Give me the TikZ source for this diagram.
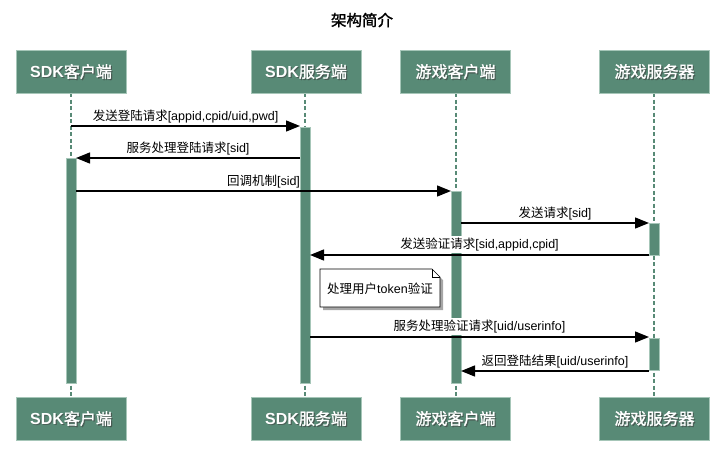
\documentclass[tikz,border=0pt]{standalone}
\usepackage{fontspec}
\setmainfont{Liberation Sans}
\newfontfamily\cjk{Noto Sans CJK SC}[AutoFakeBold=1.5]
\usetikzlibrary{arrows.meta}
\newcommand\zh[1]{{\cjk #1}}
\definecolor{boxfill}{HTML}{588A76}
\definecolor{boxedge}{HTML}{A6C6B8}
\tikzset{
  actorbox/.style={draw=boxedge, fill=boxfill, line width=0.8pt,
    minimum width=110pt, minimum height=43pt, inner sep=0pt},
  actortxt/.style={text=white, inner sep=0pt,
    font=\fontsize{16}{18}\selectfont\bfseries},
  shadowtxt/.style={actortxt, text=black!75, opacity=0.55},
  lifeline/.style={draw=boxfill, line width=2.6pt, dash pattern=on 4pt off 2.5pt},
  actbar/.style={draw=boxedge, fill=boxfill, line width=0.6pt},
  msg/.style={draw=black, line width=1.4pt,
    -{Triangle[length=14pt,width=11pt]}},
  msglabel/.style={inner sep=1pt, font=\fontsize{12.5}{14}\selectfont},
  coverlabel/.style={msglabel, fill=white, minimum height=17pt, inner sep=1.5pt},
  notebox/.style={font=\fontsize{12.5}{14}\selectfont}
}
\newcommand\actorpair[4]{%
  \node[actorbox] (#1) at (#2,#3) {};
  \node[shadowtxt] (#1s) at (#2+1.2,#3+1.2) {#4};
  \node[actortxt] (#1t) at (#2,#3) {#4};}
\begin{document}
\begin{tikzpicture}[x=1pt,y=-1pt]
\useasboundingbox (0,0) rectangle (724,464);

% title
\node[font=\fontsize{15.5}{17}\selectfont\bfseries] (title) at (362,20) {\zh{架构简介}};

% lifelines
\coordinate (l1t) at (71,93);   \coordinate (l1b) at (71,397);
\coordinate (l2t) at (305,93);  \coordinate (l2b) at (305,397);
\coordinate (l3t) at (456,93);  \coordinate (l3b) at (456,397);
\coordinate (l4t) at (654,93);  \coordinate (l4b) at (654,397);
\draw[lifeline] (l1t) -- (l1b);
\draw[lifeline] (l2t) -- (l2b);
\draw[lifeline] (l3t) -- (l3b);
\draw[lifeline] (l4t) -- (l4b);

% participants, top and bottom
\actorpair{sdkc}{71}{71.5}{SDK\zh{客户端}}
\actorpair{sdks}{306}{71.5}{SDK\zh{服务端}}
\actorpair{gamec}{455.5}{71.5}{\zh{游戏客户端}}
\actorpair{games}{654.5}{71.5}{\zh{游戏服务器}}
\actorpair{sdkcb}{71}{418.5}{SDK\zh{客户端}}
\actorpair{sdksb}{306}{418.5}{SDK\zh{服务端}}
\actorpair{gamecb}{455.5}{418.5}{\zh{游戏客户端}}
\actorpair{gamesb}{654.5}{418.5}{\zh{游戏服务器}}

% activation bars
\draw[actbar] (300,127) rectangle (310,383);
\draw[actbar] (66,158) rectangle (76,383);
\draw[actbar] (451,191) rectangle (461,383);
\draw[actbar] (649,223) rectangle (659,255);
\draw[actbar] (649,338) rectangle (659,370);

% message end points
\coordinate (m1a) at (71,126);  \coordinate (m1b) at (300,126);
\coordinate (m2a) at (300,158); \coordinate (m2b) at (76,158);
\coordinate (m3a) at (76,191);  \coordinate (m3b) at (451,191);
\coordinate (m4a) at (461,223); \coordinate (m4b) at (649,223);
\coordinate (m5a) at (649,255); \coordinate (m5b) at (310,255);
\coordinate (m6a) at (310,337); \coordinate (m6b) at (649,337);
\coordinate (m7a) at (649,371); \coordinate (m7b) at (461,371);

% messages
\draw[msg] (m1a) -- (m1b) node[msglabel, midway, above=1.5pt] (t1) {\zh{发送登陆请求}[appid,cpid/uid,pwd]};
\draw[msg] (m2a) -- (m2b) node[msglabel, midway, above=1.5pt] (t2) {\zh{服务处理登陆请求}[sid]};
\draw[msg] (m3a) -- (m3b) node[msglabel, midway, above=1.5pt] (t3) {\zh{回调机制}[sid]};
\draw[msg] (m4a) -- (m4b) node[msglabel, midway, above=1.5pt] (t4) {\zh{发送请求}[sid]};
\draw[msg] (m5a) -- (m5b) node[coverlabel, midway, above=1.5pt] (t5) {\zh{发送验证请求}[sid,appid,cpid]};
\draw[msg] (m6a) -- (m6b) node[coverlabel, midway, above=1.5pt] (t6) {\zh{服务处理验证请求}[uid/userinfo]};
\draw[msg] (m7a) -- (m7b) node[msglabel, midway, above=1.5pt] (t7) {\zh{返回登陆结果}[uid/userinfo]};

% note with folded corner and shadow
\fill[black!35] (323,272) -- (435,272) -- (443,280) -- (443,310) -- (323,310) -- cycle;
\draw[fill=white, line width=0.7pt] (320,269) -- (432,269) -- (440,277) -- (440,307) -- (320,307) -- cycle;
\draw[line width=0.7pt] (432,269) -- (432,277) -- (440,277);
\node[notebox] (note) at (380,288.5) {\zh{处理用户}token\zh{验证}};
\end{tikzpicture}
\end{document}
